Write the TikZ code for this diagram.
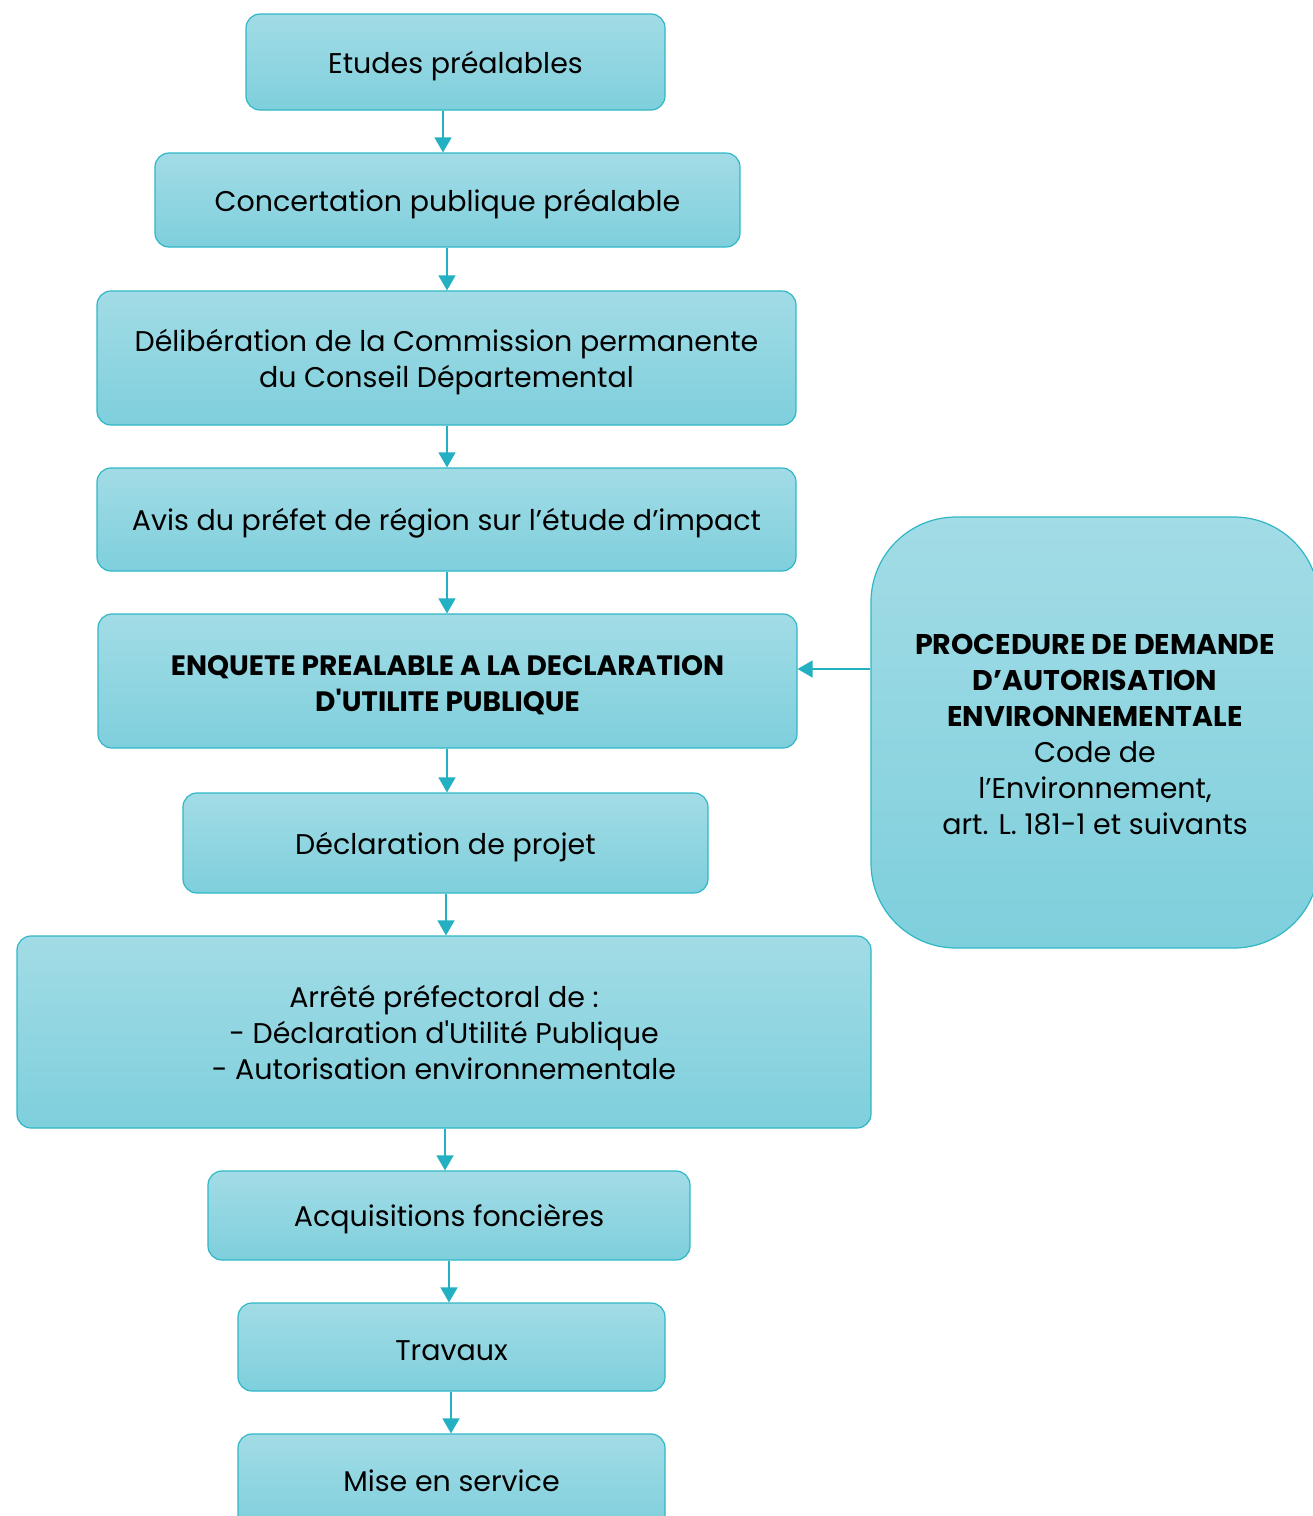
\documentclass[tikz,border=0pt]{standalone}
\usepackage{fontspec}
\setmainfont{Poppins}
\usetikzlibrary{arrows.meta}
\definecolor{boxtop}{HTML}{A2DCE6}
\definecolor{boxbot}{HTML}{7ECFDC}
\definecolor{boxline}{HTML}{2FB7C6}
\definecolor{arrcol}{HTML}{22B0C2}
\tikzset{
  box/.style={draw=boxline, line width=1.2pt, top color=boxtop, bottom color=boxbot,
    rounded corners=14pt, inner sep=0pt},
  txt/.style={align=center, inner sep=0pt, yshift=-4pt,
    font=\fontsize{28.5}{36}\selectfont},
  btxt/.style={txt, font=\fontsize{28}{36}\selectfont\bfseries},
  arr/.style={draw=arrcol, line width=1.5pt, -{Triangle[width=17pt,length=15pt]}}
}
\begin{document}
\begin{tikzpicture}[x=1pt,y=-1pt]
\useasboundingbox (0,0) rectangle (1313,1516);
\clip (0,0) rectangle (1313,1516);
\node[box, minimum width=419pt, minimum height=96pt,
  label={[txt]center:Etudes préalables}] (n1) at (455.5,62) {};
\node[box, minimum width=585pt, minimum height=94pt,
  label={[txt]center:Concertation publique préalable}] (n2) at (447.5,200) {};
\node[box, minimum width=699pt, minimum height=134pt,
  label={[txt]center:{Délibération de la Commission permanente\\du Conseil Départemental}}] (n3) at (446.5,358) {};
\node[box, minimum width=699pt, minimum height=103pt,
  label={[txt]center:Avis du préfet de région sur l’étude d’impact}] (n4) at (446.5,519.5) {};
\node[box, minimum width=699pt, minimum height=134pt,
  label={[btxt]center:{ENQUETE PREALABLE A LA DECLARATION\\D\textquotesingle UTILITE PUBLIQUE}}] (n5) at (447.5,681) {};
\node[box, minimum width=525pt, minimum height=100pt,
  label={[txt]center:Déclaration de projet}] (n6) at (445.5,843) {};
\node[box, minimum width=854pt, minimum height=192pt,
  label={[txt, yshift=4pt]center:{Arrêté préfectoral de :\\- Déclaration d\textquotesingle Utilité Publique\\- Autorisation environnementale}}] (n7) at (444,1032) {};
\node[box, minimum width=482pt, minimum height=89pt,
  label={[txt]center:Acquisitions foncières}] (n8) at (449,1215.5) {};
\node[box, minimum width=427pt, minimum height=88pt,
  label={[txt]center:Travaux}] (n9) at (451.5,1347) {};
\node[box, minimum width=427pt, minimum height=96pt,
  label={[txt, yshift=5pt]center:Mise en service}] (n10) at (451.5,1482) {};
\node[box, rounded corners=85pt, minimum width=448pt, minimum height=431pt,
  label={[txt, yshift=2pt]center:{\textbf{PROCEDURE DE DEMANDE}\\\textbf{D’AUTORISATION}\\\textbf{ENVIRONNEMENTALE}\\Code de\\l’Environnement,\\art. L. 181-1 et suivants}}] (r) at (1095,732.5) {};
\draw[arr] (n1.south -| 443,0) -- (n2.north -| 443,0);
\draw[arr] (n2.south -| 447,0) -- (n3.north -| 447,0);
\draw[arr] (n3.south -| 447,0) -- (n4.north -| 447,0);
\draw[arr] (n4.south -| 447,0) -- (n5.north -| 447,0);
\draw[arr] (n5.south -| 447,0) -- (n6.north -| 447,0);
\draw[arr] (n6.south -| 446,0) -- (n7.north -| 446,0);
\draw[arr] (n7.south -| 445,0) -- (n8.north -| 445,0);
\draw[arr] (n8.south -| 449,0) -- (n9.north -| 449,0);
\draw[arr] (n9.south -| 451,0) -- (n10.north -| 451,0);
\draw[arr] (r.west |- 0,669) -- (n5.east |- 0,669);
\end{tikzpicture}
\end{document}
